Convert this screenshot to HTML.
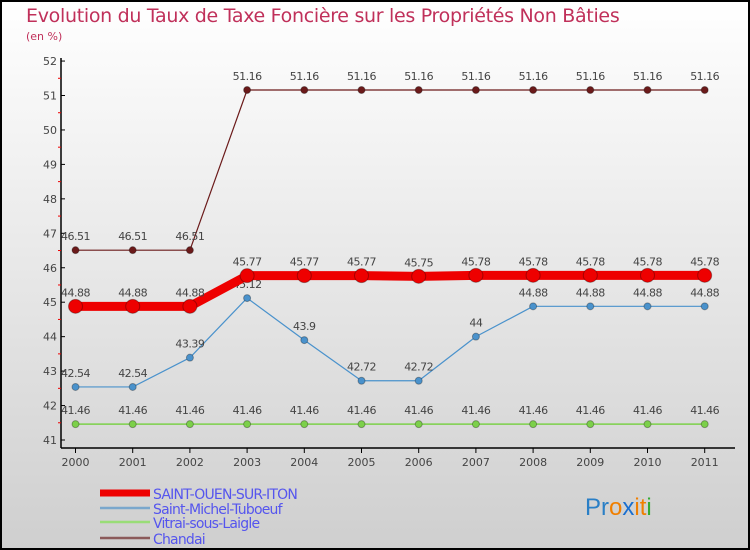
<!DOCTYPE html>
<html><head><meta charset="utf-8"><style>
body{margin:0}
#c{width:750px;height:550px;position:relative;box-sizing:border-box;border:2px solid #000;background:linear-gradient(#fff,#cfcfcf);overflow:hidden;font-family:"DejaVu Sans","Liberation Sans",sans-serif}
</style></head><body>
<div id="c">
<svg id="s" width="750" height="550" style="position:absolute;left:-2px;top:-2px">
<text x="26" y="22" font-size="19" fill="#c0305a" letter-spacing="-0.3">Evolution du Taux de Taxe Foncière sur les Propriétés Non Bâties</text>
<text x="26" y="40" font-size="11" fill="#c0305a">(en %)</text>
<g id="g"></g>
</svg>
</div>
<script>
const years=[2000,2001,2002,2003,2004,2005,2006,2007,2008,2009,2010,2011];
const saintOuen=[44.88,44.88,44.88,45.77,45.77,45.77,45.75,45.78,45.78,45.78,45.78,45.78];
const saintMichel=[42.54,42.54,43.39,45.12,43.9,42.72,42.72,44,44.88,44.88,44.88,44.88];
const vitrai=[41.46,41.46,41.46,41.46,41.46,41.46,41.46,41.46,41.46,41.46,41.46,41.46];
const chandai=[46.51,46.51,46.51,51.16,51.16,51.16,51.16,51.16,51.16,51.16,51.16,51.16];
const yTicks=[41,42,43,44,45,46,47,48,49,50,51,52];
const seriesNames=["SAINT-OUEN-SUR-ITON","Saint-Michel-Tuboeuf","Vitrai-sous-Laigle","Chandai"];
const ns="http://www.w3.org/2000/svg",g=document.getElementById('g');
const X=i=>75.5+i*57.2, Y=v=>440-(v-41)*34.45;
function el(t,a,txt){const e=document.createElementNS(ns,t);for(const k in a)e.setAttribute(k,a[k]);if(txt!==undefined)e.textContent=txt;g.appendChild(e);return e;}
let ax=el('line',{x1:61,y1:58,x2:61,y2:448,stroke:'#000','stroke-width':1.5});


let bx=el('line',{x1:61,y1:448,x2:735,y2:448,stroke:'#000','stroke-width':1.5});


yTicks.forEach(v=>{
 el('line',{x1:61,x2:65,y1:Y(v),y2:Y(v),stroke:'#000'});
 if(v<52)el('line',{x1:58,x2:61,y1:Y(v+0.5),y2:Y(v+0.5),stroke:'#e00'});
 const t=el('text',{x:57,y:Y(v)+4,'text-anchor':'end','font-size':11,fill:'#444'},v);
 
 
});
years.forEach((y,i)=>{
 el('line',{x1:X(i),x2:X(i),y1:448,y2:453,stroke:'#000'});
 const t=el('text',{x:X(i),y:466,'text-anchor':'middle','font-size':11,fill:'#444'},y);
 
 
});
function series(d,col,w,r,name){
 const p=el('polyline',{points:d.map((v,i)=>X(i)+','+Y(v)).join(' '),fill:'none',stroke:col,'stroke-width':w,'stroke-linejoin':'round'});
 
 
 d.forEach((v,i)=>{
  const c=el('circle',{cx:X(i),cy:Y(v),r:r,fill:col,stroke:'rgba(0,0,0,0.3)'});
  
  
  const t=el('text',{x:X(i),y:Y(v)-10,'text-anchor':'middle','font-size':11,fill:'#444','letter-spacing':'-0.5'},v);
  
  
 });
}
series(vitrai,'#7cd04a',1.5,3.5,'vitrai');
series(chandai,'#6b1a1a',1.2,3.5,'chandai');
series(saintMichel,'#4a92cc',1.2,3.5,'saint-michel');
series(saintOuen,'#ee0000',9,7,'saint-ouen');
const lc=['#ee0000','#7aa7cc','#99dd77','#8b5a5a'],lw=[7,2.5,2.5,2.5],ly=[493,508,522,538];
seriesNames.forEach((n,i)=>{
 const l=el('line',{x1:100,x2:150,y1:ly[i],y2:ly[i],stroke:lc[i],'stroke-width':lw[i]});
 
 
 const t=el('text',{x:153,y:ly[i]+6,'font-size':14,fill:'#5555ee','letter-spacing':'-0.8'},n);
 
 
});
const logo=el('text',{x:585,y:515,'font-size':24,'font-family':'Liberation Sans, sans-serif'});


[['Pr','#2a7fc6'],['o','#f07f00'],['x','#1a6fd0'],['it','#f07f00'],['i','#33aa33']].forEach(([s,c])=>{const ts=document.createElementNS(ns,'tspan');ts.setAttribute('fill',c);ts.textContent=s;logo.appendChild(ts);});
</script>
</body></html>
